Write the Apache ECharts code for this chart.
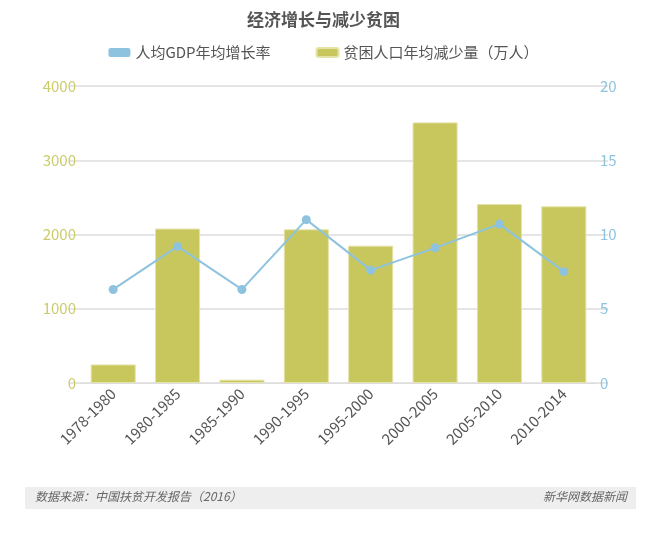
<!DOCTYPE html>
<html><head><meta charset="utf-8">
<script src="https://cdn.jsdelivr.net/npm/echarts@6/dist/echarts.min.js"></script>
<style>html,body{margin:0;padding:0;background:#fff}#c{width:647px;height:534px}</style>
</head><body><div id="c"></div>
<script>
const categories = ['1978-1980','1980-1985','1985-1990','1990-1995','1995-2000','2000-2005','2005-2010','2010-2014'];
const gdpGrowth = [6.3, 9.2, 6.3, 11.0, 7.6, 9.1, 10.7, 7.5];
const povertyReduction = [250, 2080, 45, 2070, 1850, 3510, 2410, 2380];
const leftTicks = [0, 1000, 2000, 3000, 4000];
const rightTicks = [0, 5, 10, 15, 20];
const FONT = '"Noto Sans CJK SC", "Noto Sans", sans-serif';
const chart = echarts.init(document.getElementById('c'));
chart.setOption({
  animation: false,
  textStyle: {fontFamily: FONT},
  title: {text: '经济增长与减少贫困', left: 'center', top: 6,
    textStyle: {fontSize: 17, fontWeight: 'bold', color: '#555', fontFamily: FONT}},
  legend: {top: 40, left: 'center', itemGap: 45, itemWidth: 22, itemHeight: 9,
    icon: 'roundRect',
    textStyle: {fontSize: 15, color: '#555', fontFamily: FONT},
    data: ['人均GDP年均增长率', '贫困人口年均减少量（万人）']},
  grid: {left: 81, right: 51, top: 86, bottom: 151},
  xAxis: {type: 'category', data: categories,
    axisLine: {lineStyle: {color: '#ddd'}}, axisTick: {show: false},
    axisLabel: {rotate: 45, color: '#555', fontSize: 15, margin: 8, interval: 0}},
  yAxis: [
    {type: 'value', min: leftTicks[0], max: leftTicks[leftTicks.length-1], interval: 1000,
      axisLine: {show: false}, axisTick: {show: true, length: 11, lineStyle: {color: '#ddd', width: 1.5}},
      axisLabel: {color: '#cccb6a', fontSize: 15, margin: 5, formatter: v => String(v)},
      splitLine: {lineStyle: {color: '#ddd', width: 1.5}}},
    {type: 'value', min: rightTicks[0], max: rightTicks[rightTicks.length-1], interval: 5,
      axisLine: {show: false}, axisTick: {show: true, length: 12, lineStyle: {color: '#ddd', width: 1.5}},
      axisLabel: {color: '#8ec3e0', fontSize: 15, margin: 4},
      splitLine: {show: false}}
  ],
  series: [
    {name: '贫困人口年均减少量（万人）', type: 'bar', yAxisIndex: 0, data: povertyReduction,
      barCategoryGap: '30%',
      itemStyle: {color: '#c8c75e', borderColor: '#e4e3a8', borderWidth: 1}, z: 2},
    {name: '人均GDP年均增长率', type: 'line', yAxisIndex: 1, data: gdpGrowth,
      symbol: 'circle', symbolSize: 9,
      lineStyle: {color: '#8ec3e0', width: 2},
      itemStyle: {color: '#8ec3e0'}, z: 3}
  ],
  graphic: [
    {type: 'rect', left: 25, top: 487, shape: {width: 611, height: 22}, style: {fill: '#eeeeee'}},
    {type: 'text', left: 35, top: 490, style: {text: '数据来源：中国扶贫开发报告（2016）', fill: '#666', font: 'italic 12px ' + FONT}},
    {type: 'text', right: 20, top: 490, style: {text: '新华网数据新闻', fill: '#666', font: 'italic 12px ' + FONT}}
  ]
});
</script></body></html>
